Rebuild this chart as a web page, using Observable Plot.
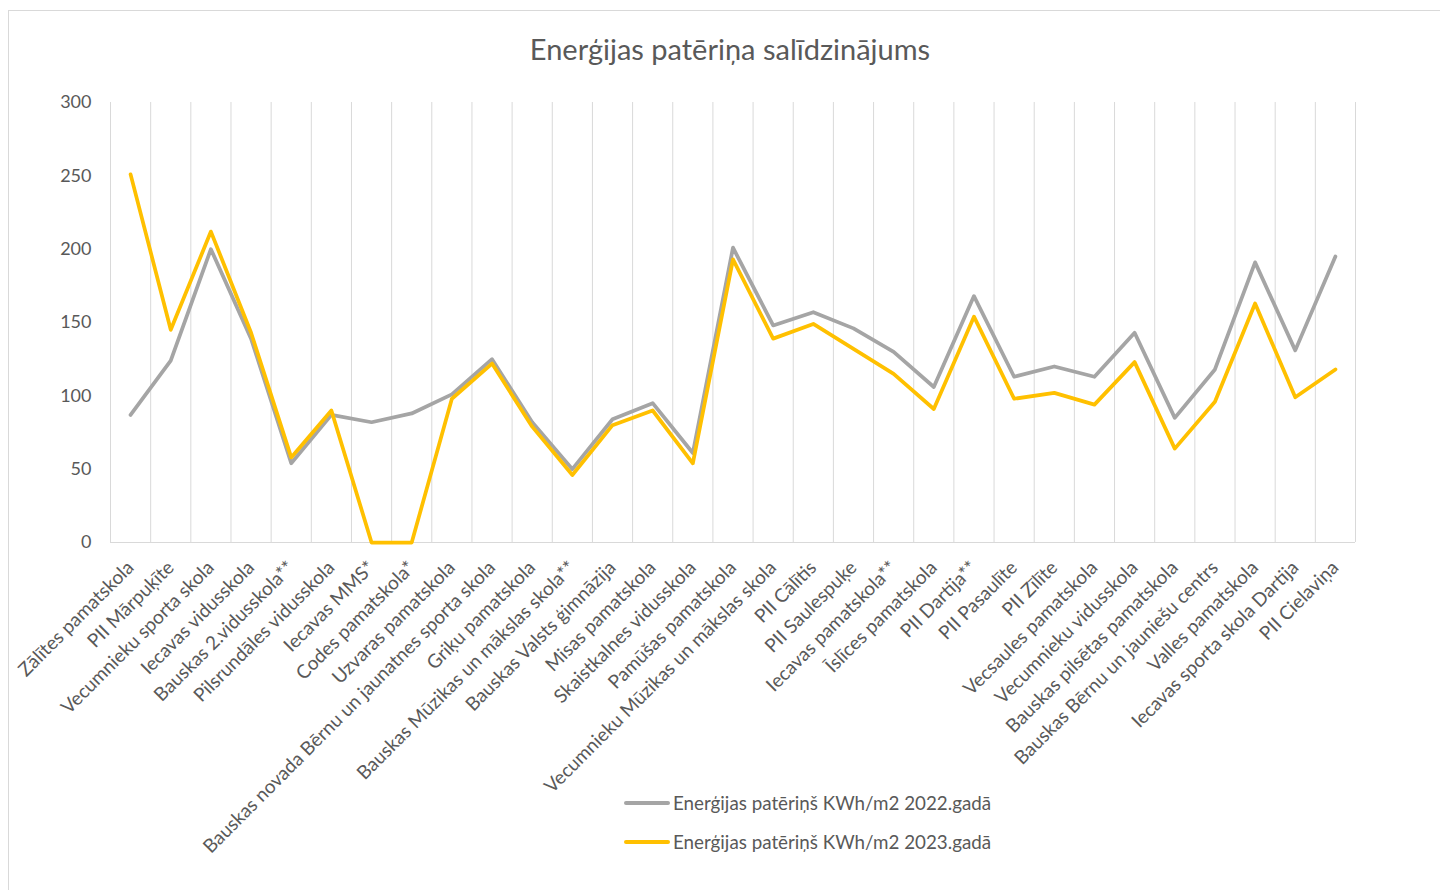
<!DOCTYPE html>
<html>
<head>
<meta charset="utf-8">
<script src="https://cdn.jsdelivr.net/npm/d3@7"></script>
<script src="https://cdn.jsdelivr.net/npm/@observablehq/plot@0.6"></script>
<style>
  html, body { margin: 0; padding: 0; background: #fff; overflow: hidden; }
  #wrap { position: relative; width: 1440px; height: 890px; font-family: Lato, "Open Sans", sans-serif; color: #595959; }
  #frame { position: absolute; left: 8px; top: 10px; width: 1500px; height: 950px; border: 1px solid #D9D9D9; box-sizing: border-box; }
  #chart { position: absolute; left: 0; top: 0; }
  #title { position: absolute; left: 0; width: 1460px; top: 31px; text-align: center; font-size: 29px; color: #595959; }
  .leg { position: absolute; left: 624px; font-size: 18.8px; color: #595959; display: flex; align-items: center; white-space: nowrap; }
  .sw { display: inline-block; width: 46px; height: 4px; border-radius: 2px; margin-right: 3px; }
</style>
</head>
<body>
<div id="wrap">
  <div id="frame"></div>
  <div id="chart"></div>
  <div id="title"></div>
  <div id="legend"></div>
</div>
<script>
const categories = [
  "Zālītes pamatskola",
  "PII Mārpuķīte",
  "Vecumnieku sporta skola",
  "Iecavas vidusskola",
  "Bauskas 2.vidusskola**",
  "Pilsrundāles vidusskola",
  "Iecavas MMS*",
  "Codes pamatskola*",
  "Uzvaras pamatskola",
  "Bauskas novada Bērnu un jaunatnes sporta skola",
  "Griķu pamatskola",
  "Bauskas Mūzikas un mākslas skola**",
  "Bauskas Valsts ģimnāzija",
  "Misas pamatskola",
  "Skaistkalnes vidusskola",
  "Pamūšas pamatskola",
  "Vecumnieku Mūzikas un mākslas skola",
  "PII Cālītis",
  "PII Saulespuķe",
  "Iecavas pamatskola**",
  "Īslīces pamatskola",
  "PII Dartija**",
  "PII Pasaulīte",
  "PII Zīlīte",
  "Vecsaules pamatskola",
  "Vecumnieku vidusskola",
  "Bauskas pilsētas pamatskola",
  "Bauskas Bērnu un jauniešu centrs",
  "Valles pamatskola",
  "Iecavas sporta skola Dartija",
  "PII Cielaviņa"
];
const values2022 = [87, 124, 200, 139, 54, 87, 82, 88, 101, 125, 82, 50, 84, 95, 61, 201, 148, 157, 146, 130, 106, 168, 113, 120, 113, 143, 85, 118, 191, 131, 195];
const values2023 = [251, 145, 212, 143, 58, 90, 0, 0, 98, 122, 79, 46, 80, 90, 54, 193, 139, 149, 132, 115, 91, 154, 98, 102, 94, 123, 64, 96, 163, 99, 118];
const yTicks = [0, 50, 100, 150, 200, 250, 300];
const seriesNames = ["Enerģijas patēriņš KWh/m2 2022.gadā", "Enerģijas patēriņš KWh/m2 2023.gadā"];
const seriesColors = ["#A5A5A5", "#FFC000"];
const titleText = "Enerģijas patēriņa salīdzinājums";

const rows = categories.map((c, i) => ({i, c, v22: values2022[i], v23: values2023[i]}));
const idx = categories.map((c, i) => i);
const bounds = d3.range(categories.length + 1).map(i => i - 0.5);

const chart = Plot.plot({
  width: 1440,
  height: 890,
  marginTop: 102,
  marginBottom: 348,
  marginLeft: 110,
  marginRight: 85,
  style: {fontFamily: "Lato, 'Open Sans', sans-serif", fontSize: "18px", color: "#595959", background: "transparent", overflow: "visible"},
  x: {type: "linear", domain: [-0.5, categories.length - 0.5]},
  y: {domain: [0, 300]},
  marks: [
    Plot.ruleX(bounds, {x: d => d, stroke: "#D9D9D9", strokeWidth: 1}),
    Plot.ruleY([0], {stroke: "#D9D9D9", strokeWidth: 1}),
    Plot.axisY({ticks: yTicks, tickSize: 0, tickPadding: 19, label: null, fontSize: 18}),
    Plot.axisX({ticks: idx, tickFormat: i => categories[i], tickRotate: -45, tickSize: 0, tickPadding: 22, label: null, fontSize: 19}),
    Plot.line(rows, {x: "i", y: "v22", stroke: seriesColors[0], strokeWidth: 3.75, strokeLinejoin: "round", strokeLinecap: "round"}),
    Plot.line(rows, {x: "i", y: "v23", stroke: seriesColors[1], strokeWidth: 3.75, strokeLinejoin: "round", strokeLinecap: "round"})
  ]
});
document.getElementById("chart").appendChild(chart);
document.getElementById("title").textContent = titleText;

const legend = document.getElementById("legend");
seriesNames.forEach((name, k) => {
  const row = document.createElement("div");
  row.className = "leg";
  row.style.top = (791 + k * 39) + "px";
  const sw = document.createElement("span");
  sw.className = "sw";
  sw.style.background = seriesColors[k];
  const tx = document.createElement("span");
  tx.textContent = name;
  row.appendChild(sw);
  row.appendChild(tx);
  legend.appendChild(row);
});
</script>
</body>
</html>
